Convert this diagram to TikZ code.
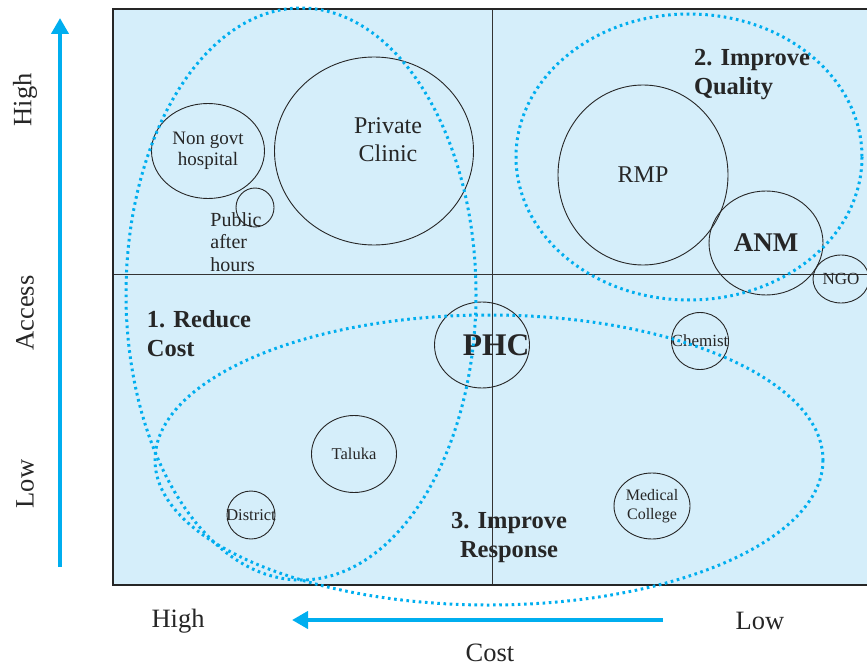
\documentclass[tikz,border=0pt]{standalone}
\usepackage{fontspec}
\setmainfont{Liberation Serif}
\usetikzlibrary{shapes.geometric,arrows.meta}
\definecolor{skyfill}{HTML}{D5EEFA}
\definecolor{skyline}{HTML}{00AEEF}
\begin{document}
\begin{tikzpicture}[x=1pt,y=-1pt]
\tikzstyle{every node}=[inner sep=0pt,align=center,text=black!85]
\tikzstyle{every label}=[inner sep=0pt,text=black!85]
\tikzstyle{blob}=[draw=black!85,line width=0.9pt,ellipse]
\tikzstyle{group}=[draw=skyline,line width=3pt,dash pattern=on 2.6pt off 3.6pt]
\tikzstyle{axis}=[draw=skyline,line width=4pt,-{Triangle[length=16pt,width=17pt]}]
\tikzstyle{ax}=[font=\fontsize{26.5}{30}\selectfont]
\tikzstyle{goal}=[font=\bfseries\fontsize{24.5}{29}\selectfont]
\useasboundingbox (0,0) rectangle (867,666);
\fill[skyfill](113,9) rectangle (867,585);
\draw[black!80,line width=0.8pt](492,9)--(492,585) (113,274)--(867,274);
\draw[black!85,line width=2pt](867,9)--(113,9)--(113,585)--(867,585);
% providers
\node[blob,minimum width=113,minimum height=95,font=\fontsize{19}{20.5}\selectfont] (hosp) at (208,151) {Non govt\\hospital};
\node[blob,minimum width=38,minimum height=39] (pub) at (255,207.5) {};
\node[font=\fontsize{20}{22.5}\selectfont,align=left] (pubtxt) at (236,242) {Public\\after\\hours};
\node[blob,minimum width=199,minimum height=188] (clinic) at (374,151) {};
\node[font=\fontsize{24}{28}\selectfont] (clinictxt) at (388,140) {Private\\Clinic};
\node[blob,minimum width=170,minimum height=180,label={[font=\fontsize{24}{28}\selectfont]center:RMP}] (rmp) at (643,175) {};
\node[blob,minimum width=114,minimum height=104,label={[font=\bfseries\fontsize{27}{30}\selectfont]center:ANM}] (anm) at (766,243) {};
\node[blob,minimum width=56,minimum height=48,label={[font=\fontsize{17}{18}\selectfont]center:NGO}] (ngo) at (841,279) {};
\node[blob,minimum width=95,minimum height=86] (phc) at (482,345) {};
\node[font=\bfseries\fontsize{31.5}{34}\selectfont] (phctxt) at (496,345) {PHC};
\node[blob,minimum width=57,minimum height=57,label={[font=\fontsize{17}{18}\selectfont]center:Chemist}] (chem) at (700,341) {};
\node[blob,minimum width=85,minimum height=77,label={[font=\fontsize{16.5}{18}\selectfont]center:Taluka}] (taluka) at (354,454) {};
\node[blob,minimum width=48,minimum height=48,label={[font=\fontsize{16.5}{18}\selectfont]center:District}] (dist) at (251,515) {};
\node[blob,minimum width=76,minimum height=66,label={[font=\fontsize{16}{19}\selectfont,align=center]center:Medical\\College}] (med) at (652,506) {};
% groups
\draw[group](301,294) ellipse [x radius=175,y radius=286];
\draw[group](689,157) ellipse [x radius=173,y radius=143];
\draw[group](489,460) ellipse [x radius=334,y radius=145];
\node[goal,align=left] (cost) at (199,334) {1. Reduce\\Cost};
\node[goal,align=left] (quality) at (752,75) {2. Improve\\Quality};
\node[goal] (resp) at (509,537) {3. Improve\\Response};
% axes
\coordinate (a0) at (60,567);
\coordinate (a1) at (60,18);
\coordinate (c0) at (663,620);
\coordinate (c1) at (292,620);
\draw[axis](a0)--(a1);
\draw[axis](c0)--(c1);
\node[ax,rotate=90] (ahigh) at (25,100) {High};
\node[ax,rotate=90] (aname) at (25,313) {Access};
\node[ax,rotate=90] (alow) at (25,484) {Low};
\node[ax] (chigh) at (178,621) {High};
\node[ax] (clow) at (760,621) {Low};
\node[ax] (cname) at (490,653) {Cost};
\end{tikzpicture}
\end{document}
